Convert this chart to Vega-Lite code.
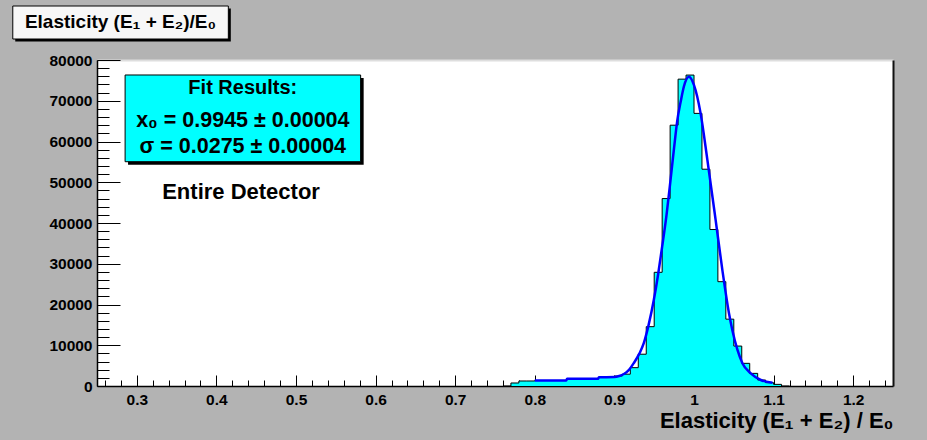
{
  "$schema": "https://vega.github.io/schema/vega-lite/v6.json",
  "width": 796,
  "height": 326,
  "autosize": {"type": "none"},
  "padding": {"left": 97, "top": 60, "right": 34, "bottom": 54},
  "background": "#b3b3b3",
  "config": {
    "view": {"stroke": null, "fill": "white"},
    "font": "Liberation Sans",
    "axis": {"grid": false, "labelFont": "Liberation Sans", "titleFont": "Liberation Sans", "labelColor": "black", "titleColor": "black", "tickColor": "black", "domainColor": "black"}
  },
  "datasets": {
    "hist": [
      {"e": 0.76, "n": 0}, {"e": 0.77, "n": 740}, {"e": 0.78, "n": 1230}, {"e": 0.79, "n": 1230},
      {"e": 0.80, "n": 1350}, {"e": 0.81, "n": 1350}, {"e": 0.82, "n": 1350}, {"e": 0.83, "n": 1350},
      {"e": 0.84, "n": 1790}, {"e": 0.85, "n": 1790}, {"e": 0.86, "n": 1790}, {"e": 0.87, "n": 1790},
      {"e": 0.88, "n": 2130}, {"e": 0.89, "n": 2130}, {"e": 0.90, "n": 2450}, {"e": 0.91, "n": 2900},
      {"e": 0.92, "n": 4500}, {"e": 0.93, "n": 7800}, {"e": 0.94, "n": 14560}, {"e": 0.95, "n": 27900},
      {"e": 0.96, "n": 46000}, {"e": 0.97, "n": 64000}, {"e": 0.98, "n": 75300}, {"e": 0.99, "n": 76300},
      {"e": 1.00, "n": 66900}, {"e": 1.01, "n": 53200}, {"e": 1.02, "n": 38400}, {"e": 1.03, "n": 25600},
      {"e": 1.04, "n": 16400}, {"e": 1.05, "n": 9800}, {"e": 1.06, "n": 5560}, {"e": 1.07, "n": 3100},
      {"e": 1.08, "n": 1470}, {"e": 1.09, "n": 820}, {"e": 1.10, "n": 400}, {"e": 1.11, "n": 0}, {"e": 1.12, "n": 0}
    ],
    "fit": [
      {"e": 0.800, "n": 1380}, {"e": 0.8395, "n": 1380}, {"e": 0.8405, "n": 1800}, {"e": 0.8795, "n": 1800},
      {"e": 0.8805, "n": 2150}, {"e": 0.900, "n": 2200}, {"e": 0.906, "n": 2450}, {"e": 0.912, "n": 2950},
      {"e": 0.918, "n": 3900}, {"e": 0.9243, "n": 5600}, {"e": 0.9315, "n": 8000}, {"e": 0.9369, "n": 10500},
      {"e": 0.943, "n": 15000}, {"e": 0.9495, "n": 21100}, {"e": 0.955, "n": 27500}, {"e": 0.960, "n": 34200},
      {"e": 0.9655, "n": 42000}, {"e": 0.9705, "n": 50500}, {"e": 0.975, "n": 58500}, {"e": 0.9789, "n": 65000},
      {"e": 0.9835, "n": 70000}, {"e": 0.9873, "n": 73500}, {"e": 0.9936, "n": 75900}, {"e": 0.9999, "n": 73900},
      {"e": 1.0083, "n": 66900}, {"e": 1.0168, "n": 55500}, {"e": 1.0272, "n": 40700}, {"e": 1.0356, "n": 28500},
      {"e": 1.0440, "n": 17800}, {"e": 1.0482, "n": 13700}, {"e": 1.0545, "n": 8900}, {"e": 1.0608, "n": 5600},
      {"e": 1.0713, "n": 3100}, {"e": 1.0839, "n": 1470}, {"e": 1.0986, "n": 820}
    ]
  },
  "layer": [
    {
      "data": {"name": "hist"},
      "mark": {"type": "area", "interpolate": "step-after", "color": "#00ffff"},
      "encoding": {
        "x": {"field": "e", "type": "quantitative", "scale": {"domain": [0.25, 1.25], "nice": false, "zero": false},
          "axis": {"orient": "bottom", "values": [0.3, 0.4, 0.5, 0.6, 0.7, 0.8, 0.9, 1, 1.1, 1.2], "format": "~g",
            "tickSize": -11, "tickWidth": 1, "domainWidth": 1.5, "labelFontSize": 15.5, "labelFontWeight": "bold", "labelPadding": 17,
            "title": "Elasticity (E₁ + E₂) / E₀", "titleFontSize": 22, "titleFontWeight": "bold",
            "titleAnchor": "end", "titleAlign": "right", "titleBaseline": "alphabetic", "titleX": 796, "titleY": 41}},
        "y": {"field": "n", "type": "quantitative", "scale": {"domain": [0, 80000], "nice": false},
          "axis": {"orient": "left", "values": [0, 10000, 20000, 30000, 40000, 50000, 60000, 70000, 80000], "format": "d",
            "tickSize": -23, "tickWidth": 1, "domainWidth": 1.5, "labelFontSize": 15.5, "labelFontWeight": "bold", "labelPadding": 28, "title": null}}
      }
    },
    {
      "data": {"name": "hist"},
      "mark": {"type": "line", "interpolate": "step-after", "color": "black", "strokeWidth": 1},
      "encoding": {
        "x": {"field": "e", "type": "quantitative", "scale": {"domain": [0.25, 1.25], "nice": false, "zero": false},
          "axis": {"orient": "bottom", "values": [0.26, 0.28, 0.30, 0.32, 0.34, 0.36, 0.38, 0.40, 0.42, 0.44, 0.46, 0.48, 0.50, 0.52, 0.54, 0.56, 0.58, 0.60, 0.62, 0.64, 0.66, 0.68, 0.70, 0.72, 0.74, 0.76, 0.78, 0.80, 0.82, 0.84, 0.86, 0.88, 0.90, 0.92, 0.94, 0.96, 0.98, 1.00, 1.02, 1.04, 1.06, 1.08, 1.10, 1.12, 1.14, 1.16, 1.18, 1.20, 1.22, 1.24],
            "tickSize": -6, "tickWidth": 1, "labels": false, "domain": false, "title": null}},
        "y": {"field": "n", "type": "quantitative", "scale": {"domain": [0, 80000], "nice": false},
          "axis": {"orient": "left", "values": [0, 2000, 4000, 6000, 8000, 10000, 12000, 14000, 16000, 18000, 20000, 22000, 24000, 26000, 28000, 30000, 32000, 34000, 36000, 38000, 40000, 42000, 44000, 46000, 48000, 50000, 52000, 54000, 56000, 58000, 60000, 62000, 64000, 66000, 68000, 70000, 72000, 74000, 76000, 78000, 80000],
            "tickSize": -12, "tickWidth": 1, "labels": false, "domain": false, "title": null}}
      }
    },
    {
      "data": {"name": "fit"},
      "mark": {"type": "line", "interpolate": "monotone", "color": "#0000ff", "strokeWidth": 2.5},
      "encoding": {
        "x": {"field": "e", "type": "quantitative", "scale": {"domain": [0.25, 1.25], "nice": false, "zero": false},
          "axis": {"orient": "top", "ticks": false, "labels": false, "domainColor": "#dedede", "domainWidth": 2, "title": null}},
        "y": {"field": "n", "type": "quantitative", "scale": {"domain": [0, 80000], "nice": false},
          "axis": {"orient": "right", "ticks": false, "labels": false, "domainColor": "#111111", "domainWidth": 2, "title": null}}
      }
    },
    {
      "data": {"values": [{}]},
      "mark": {"type": "rect", "color": "black"},
      "encoding": {
        "x": {"datum": 0.1473, "type": "quantitative", "scale": {"domain": [0.25, 1.25], "nice": false, "zero": false}, "axis": null},
        "x2": {"datum": 0.4181},
        "y": {"datum": 92640, "type": "quantitative", "scale": {"domain": [0, 80000], "nice": false}, "axis": null},
        "y2": {"datum": 84540}
      }
    },
    {
      "data": {"values": [{}]},
      "mark": {"type": "rect", "color": "#f7f7f7", "stroke": "black", "strokeWidth": 1},
      "encoding": {
        "x": {"datum": 0.1442, "type": "quantitative", "scale": {"domain": [0.25, 1.25], "nice": false, "zero": false}, "axis": null},
        "x2": {"datum": 0.4150},
        "y": {"datum": 93250, "type": "quantitative", "scale": {"domain": [0, 80000], "nice": false}, "axis": null},
        "y2": {"datum": 85150}
      }
    },
    {
      "data": {"values": [{}]},
      "mark": {"type": "text", "text": "Elasticity (E₁ + E₂)/E₀", "font": "Liberation Sans", "fontWeight": "bold", "fontSize": 19, "color": "black", "align": "center", "baseline": "middle"},
      "encoding": {
        "x": {"datum": 0.2795, "type": "quantitative", "scale": {"domain": [0.25, 1.25], "nice": false, "zero": false}, "axis": null},
        "y": {"datum": 89300, "type": "quantitative", "scale": {"domain": [0, 80000], "nice": false}, "axis": null}
      }
    },
    {
      "data": {"values": [{}]},
      "mark": {"type": "rect", "color": "black"},
      "encoding": {
        "x": {"datum": 0.2890, "type": "quantitative", "scale": {"domain": [0.25, 1.25], "nice": false, "zero": false}, "axis": null},
        "x2": {"datum": 0.5850},
        "y": {"datum": 75580, "type": "quantitative", "scale": {"domain": [0, 80000], "nice": false}, "axis": null},
        "y2": {"datum": 54310}
      }
    },
    {
      "data": {"values": [{}]},
      "mark": {"type": "rect", "color": "#00ffff", "stroke": "black", "strokeWidth": 1},
      "encoding": {
        "x": {"datum": 0.2853, "type": "quantitative", "scale": {"domain": [0.25, 1.25], "nice": false, "zero": false}, "axis": null},
        "x2": {"datum": 0.5812},
        "y": {"datum": 76320, "type": "quantitative", "scale": {"domain": [0, 80000], "nice": false}, "axis": null},
        "y2": {"datum": 55040}
      }
    },
    {
      "data": {"values": [{}]},
      "mark": {"type": "text", "text": "Fit Results:", "font": "Liberation Sans", "fontWeight": "bold", "fontSize": 20, "color": "black", "align": "center", "baseline": "middle"},
      "encoding": {
        "x": {"datum": 0.4332, "type": "quantitative", "scale": {"domain": [0.25, 1.25], "nice": false, "zero": false}, "axis": null},
        "y": {"datum": 73100, "type": "quantitative", "scale": {"domain": [0, 80000], "nice": false}, "axis": null}
      }
    },
    {
      "data": {"values": [{}]},
      "mark": {"type": "text", "text": "x₀ = 0.9945 ± 0.00004", "font": "Liberation Sans", "fontWeight": "bold", "fontSize": 21.5, "color": "black", "align": "center", "baseline": "middle"},
      "encoding": {
        "x": {"datum": 0.4332, "type": "quantitative", "scale": {"domain": [0.25, 1.25], "nice": false, "zero": false}, "axis": null},
        "y": {"datum": 65000, "type": "quantitative", "scale": {"domain": [0, 80000], "nice": false}, "axis": null}
      }
    },
    {
      "data": {"values": [{}]},
      "mark": {"type": "text", "text": "σ = 0.0275 ± 0.00004", "font": "Liberation Sans", "fontWeight": "bold", "fontSize": 21.5, "color": "black", "align": "center", "baseline": "middle"},
      "encoding": {
        "x": {"datum": 0.4332, "type": "quantitative", "scale": {"domain": [0.25, 1.25], "nice": false, "zero": false}, "axis": null},
        "y": {"datum": 58600, "type": "quantitative", "scale": {"domain": [0, 80000], "nice": false}, "axis": null}
      }
    },
    {
      "data": {"values": [{}]},
      "mark": {"type": "text", "text": "Entire Detector", "font": "Liberation Sans", "fontWeight": "bold", "fontSize": 22, "color": "black", "align": "left", "baseline": "middle"},
      "encoding": {
        "x": {"datum": 0.3319, "type": "quantitative", "scale": {"domain": [0.25, 1.25], "nice": false, "zero": false}, "axis": null},
        "y": {"datum": 47600, "type": "quantitative", "scale": {"domain": [0, 80000], "nice": false}, "axis": null}
      }
    }
  ],
  "resolve": {"axis": {"x": "independent", "y": "independent"}}
}
